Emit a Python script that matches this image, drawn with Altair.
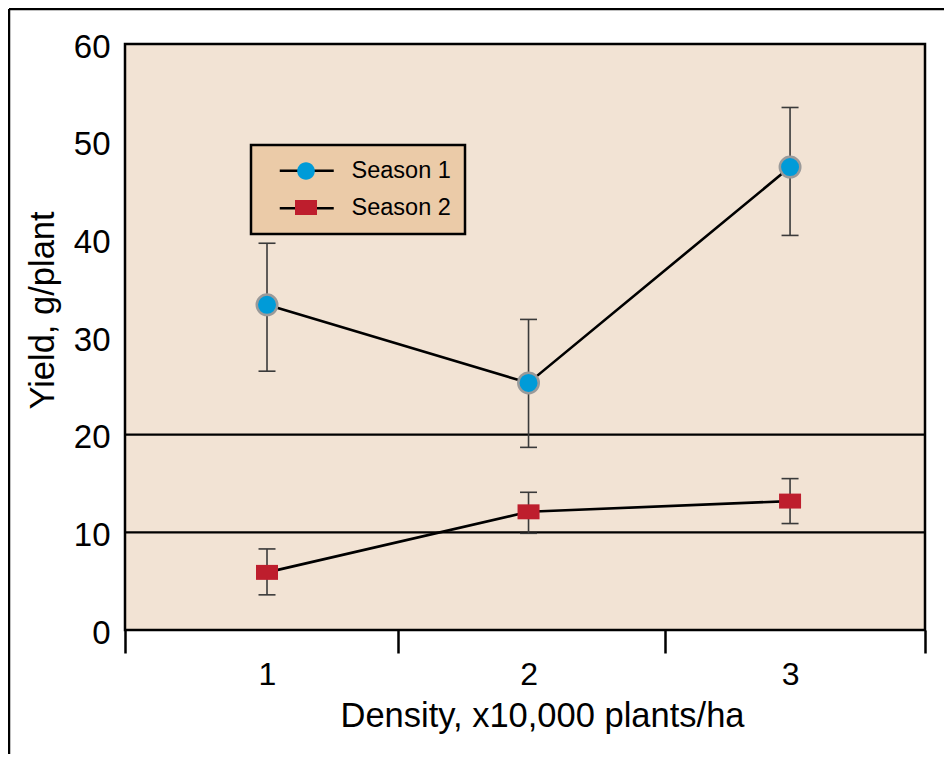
import altair as alt
import pandas as pd

# ---- data ----
series = ["Season 1", "Season 2"]
density = [1, 2, 3]
season1_mean = [33.3, 25.3, 47.4]
season1_low = [26.5, 18.7, 40.4]
season1_high = [39.6, 31.8, 53.5]
season2_mean = [5.9, 12.1, 13.2]
season2_low = [3.6, 9.9, 10.9]
season2_high = [8.3, 14.1, 15.5]
reference_lines = [10, 20]
y_tick_values = [0, 10, 20, 30, 40, 50, 60]
x_label_values = [1, 2, 3]
x_boundary_ticks = [0.457, 1.5, 2.52, 3.516]

rows = []
for name, means, lows, highs in [
    (series[0], season1_mean, season1_low, season1_high),
    (series[1], season2_mean, season2_low, season2_high),
]:
    for d, m, lo, hi in zip(density, means, lows, highs):
        rows.append({"Density": d, "Yield": m, "Low": lo, "High": hi, "Series": name})
df = pd.DataFrame(rows)
ref_df = pd.DataFrame({"Yield": reference_lines})
frame_df = pd.DataFrame({"k": [0]})

FONT = "Liberation Sans"
BLUE = "#009BD8"
RED = "#BE1E2D"
BAR = "#3a3a3a"

circle_path = "M0.8,0A0.8,0.8,0,1,1,-0.8,0A0.8,0.8,0,1,1,0.8,0Z"
rect_path = "M-1,-0.68H1V0.68H-1Z"

x_scale = alt.Scale(domain=[x_boundary_ticks[0], x_boundary_ticks[-1]], nice=False, zero=False)
y_scale = alt.Scale(domain=[y_tick_values[0], y_tick_values[-1]], nice=False, zero=False)

x_axis = alt.Axis(
    values=sorted(x_boundary_ticks + x_label_values),
    domain=False,
    ticks=True,
    tickSize=23,
    tickWidth=2.5,
    tickColor="black",
    tickOpacity={"condition": {"test": "datum.value == round(datum.value)", "value": 0}, "value": 1},
    labelExpr="datum.value == round(datum.value) ? format(datum.value, 'd') : ''",
    labelFontSize=32,
    labelPadding=31,
    labelBaseline="alphabetic",
    labelOverlap=False,
    labelFlush=False,
    titleFontSize=34.5,
    titleX=417,
    titleY=96,
    titleBaseline="alphabetic",
    titleAlign="center",
)
y_axis = alt.Axis(
    values=y_tick_values,
    domain=False,
    ticks=False,
    labelFontSize=33,
    labelPadding=15,
    labelOffset=3,
    titleFontSize=34.5,
    titleX=-72,
    titleY=266,
    titleBaseline="alphabetic",
    titleAlign="center",
    titleAngle=270,
)

X_TITLE = "Density, x10,000 plants/ha"
Y_TITLE = "Yield, g/plant"

def xenc():
    return alt.X("Density:Q", scale=x_scale, axis=x_axis, title=X_TITLE)

legend_lines = alt.Legend(
    orient="none", legendX=126, legendY=101, title=None,
    fillColor="#EBCBA8", strokeColor="black", padding=14,
    symbolType="M-3,0H3", symbolSize=324, symbolStrokeWidth=2.5,
    symbolStrokeColor="black", symbolFillColor="transparent", symbolOffset=30,
    labelFontSize=23.5, labelFont=FONT, labelColor="black", labelOffset=33,
    labelExpr="datum.label + '  '", rowPadding=12.5, zindex=0, direction="vertical",
)
legend_points = alt.Legend(
    orient="none", legendX=126, legendY=101, title=None, padding=14,
    symbolSize=484, symbolStrokeWidth=1.2, symbolStrokeColor="#a0a0a0", symbolOffset=29,
    labelFontSize=23.5, labelFont=FONT, labelOpacity=0, labelOffset=33,
    labelExpr="datum.label + '  '", rowPadding=12.5, zindex=1, direction="vertical",
)

refs = alt.Chart(ref_df).mark_rule(color="black", strokeWidth=2.2).encode(
    y=alt.Y("Yield:Q", scale=y_scale, axis=y_axis, title=Y_TITLE)
)

bars = alt.Chart(df).mark_rule(color=BAR, strokeWidth=1.6).encode(
    x=xenc(),
    y=alt.Y("Low:Q", scale=y_scale, axis=y_axis, title=Y_TITLE),
    y2="High:Q",
)

caps = alt.Chart(df).transform_fold(["Low", "High"], as_=["bound", "cap"]).mark_tick(
    orient="horizontal", size=17, thickness=1.6, color=BAR, opacity=1
).encode(
    x=xenc(),
    y=alt.Y("cap:Q", scale=y_scale, axis=y_axis, title=Y_TITLE),
)

lines = alt.Chart(df).transform_calculate(SeriesL="datum.Series").mark_line(strokeWidth=2.6).encode(
    x=xenc(),
    y=alt.Y("Yield:Q", scale=y_scale, axis=y_axis, title=Y_TITLE),
    color=alt.Color("SeriesL:N", scale=alt.Scale(range=["black", "black"]), legend=legend_lines),
)

points = alt.Chart(df).mark_point(filled=True, opacity=1, strokeWidth=2.5).encode(
    x=xenc(),
    y=alt.Y("Yield:Q", scale=y_scale, axis=y_axis, title=Y_TITLE),
    shape=alt.Shape("Series:N", scale=alt.Scale(range=[circle_path, rect_path]), legend=legend_points),
    fill=alt.Fill("Series:N", scale=alt.Scale(range=[BLUE, RED]), legend=legend_points),
    size=alt.condition("datum.Series == 'Season 1'", alt.value(656), alt.value(484)),
    stroke=alt.condition("datum.Series == 'Season 1'", alt.value("#9a9a9a"), alt.value("transparent")),
)

frame_left = alt.Chart(frame_df).mark_rule(color="black", strokeWidth=2.5).encode(
    x=alt.value(-116), y=alt.value(-35), y2=alt.value(720)
)
frame_top = alt.Chart(frame_df).mark_rule(color="black", strokeWidth=2.5).encode(
    x=alt.value(-116), x2=alt.value(830), y=alt.value(-35)
)

chart = alt.layer(refs, bars, caps, lines, points, frame_left, frame_top).properties(
    width=800,
    height=586,
    autosize=alt.AutoSizeParams(type="none"),
    padding={"left": 117, "top": 36, "right": 19, "bottom": 124},
    background="white",
).configure(font=FONT).configure_view(
    fill="#F2E3D4", stroke="black", strokeWidth=2.5
).configure_axis(
    grid=False, labelColor="black", titleColor="black", titleFontWeight="normal",
    labelFont=FONT, titleFont=FONT,
).configure_legend(strokeWidth=2.5)

chart.save("out.html", embed_options={"renderer": "svg", "actions": False})
